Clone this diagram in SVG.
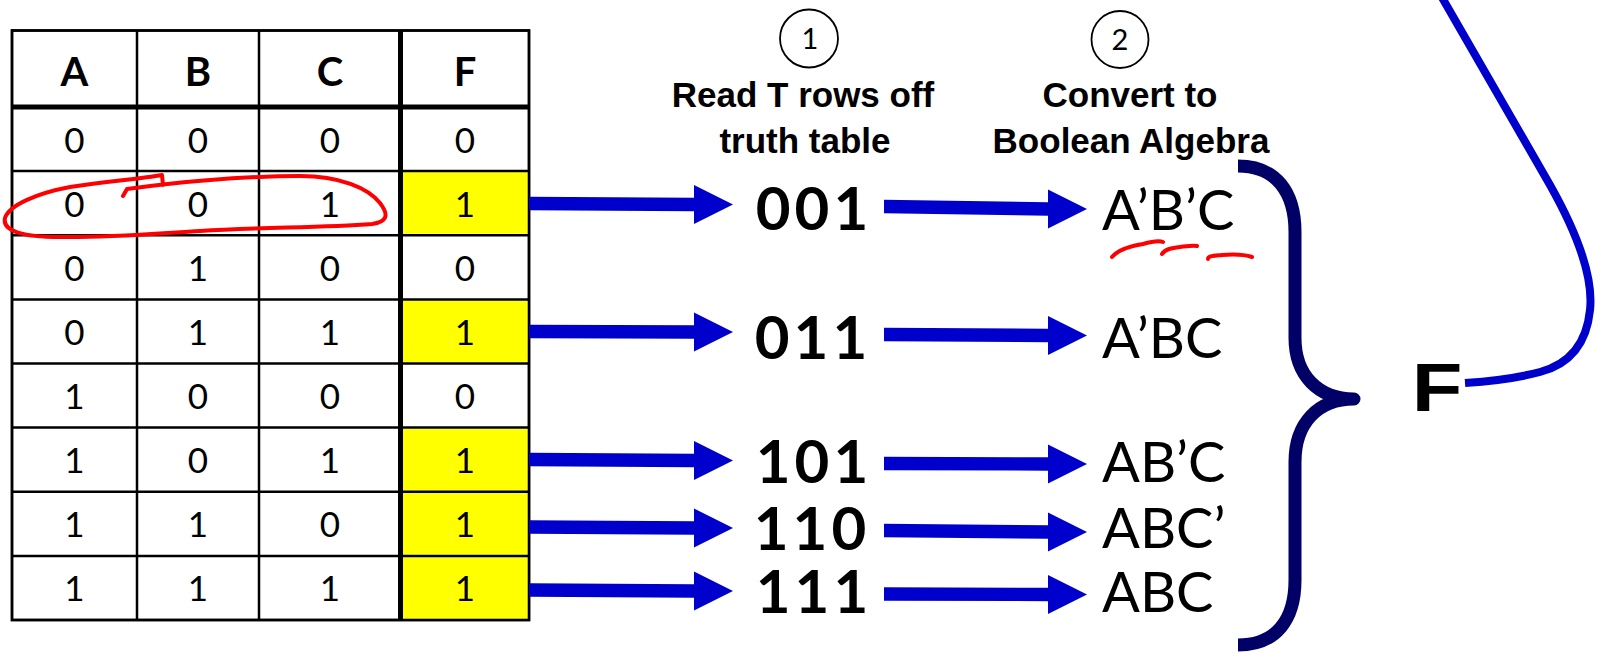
<svg xmlns="http://www.w3.org/2000/svg" width="1601" height="660" viewBox="0 0 1601 660">
<style>
.cell{fill:#fff;stroke:#000;stroke-width:2.5}
.yel{fill:#ffff00}
.grid{stroke:#000;stroke-width:2.5;fill:none}
.thick{stroke:#000;stroke-width:5;fill:none}
.hd{font-family:Lato,"Liberation Sans",sans-serif;font-weight:bold;font-size:40px;text-anchor:middle;fill:#000}
.dg{font-family:Lato,"Liberation Sans",sans-serif;font-size:35px;text-anchor:middle;fill:#000}
.lbl{font-family:"Liberation Sans",Arial,sans-serif;font-weight:bold;font-size:35px;text-anchor:middle;fill:#000}
.num{font-family:Lato,"Liberation Sans",sans-serif;font-size:29px;text-anchor:middle;fill:#000}
.bits{font-family:Lato,"Liberation Sans",sans-serif;font-weight:bold;font-size:60px;letter-spacing:4px;text-anchor:middle;fill:#000}
.term{font-family:Lato,"Liberation Sans",sans-serif;font-size:56px;fill:#000}
.circ{fill:none;stroke:#000;stroke-width:1.8}
.arrow{fill:#0000cc}
.red{fill:none;stroke:#ff0000;stroke-width:4;stroke-linecap:round;stroke-linejoin:round}
</style>

<g id="truth-table">
  <rect class="cell" x="12" y="30.5" width="517" height="589.5"/>
  <rect class="yel" x="403" y="172.2" width="124.8" height="61.6"/>
  <rect class="yel" x="403" y="300.6" width="124.8" height="61.6"/>
  <rect class="yel" x="403" y="428.8" width="124.8" height="61.8"/>
  <rect class="yel" x="403" y="493" width="124.8" height="61.7"/>
  <rect class="yel" x="403" y="557.1" width="124.8" height="61.7"/>
  <g class="grid">
    <line x1="137" y1="30.5" x2="137" y2="620"/>
    <line x1="259" y1="30.5" x2="259" y2="620"/>
    <line x1="12" y1="171.1" x2="529" y2="171.1"/>
    <line x1="12" y1="235.3" x2="529" y2="235.3"/>
    <line x1="12" y1="299.4" x2="529" y2="299.4"/>
    <line x1="12" y1="363.5" x2="529" y2="363.5"/>
    <line x1="12" y1="427.6" x2="529" y2="427.6"/>
    <line x1="12" y1="491.8" x2="529" y2="491.8"/>
    <line x1="12" y1="555.9" x2="529" y2="555.9"/>
    <rect x="12" y="30.5" width="517" height="589.5"/>
  </g>
  <g class="thick">
    <line x1="12" y1="107" x2="529" y2="107"/>
    <line x1="400.5" y1="30.5" x2="400.5" y2="620"/>
  </g>
  <text class="hd" x="74.5" y="86">A</text>
  <text class="hd" x="198" y="86">B</text>
  <text class="hd" x="330" y="86">C</text>
  <text class="hd" x="465" y="86">F</text>

  <g class="dg">
    <text x="74.5" y="152.5">0</text><text x="198" y="152.5">0</text><text x="330" y="152.5">0</text><text x="465" y="152.5">0</text>
    <text x="74.5" y="216.6">0</text><text x="198" y="216.6">0</text><text x="330" y="216.6">1</text><text x="465" y="216.6">1</text>
    <text x="74.5" y="280.8">0</text><text x="198" y="280.8">1</text><text x="330" y="280.8">0</text><text x="465" y="280.8">0</text>
    <text x="74.5" y="344.9">0</text><text x="198" y="344.9">1</text><text x="330" y="344.9">1</text><text x="465" y="344.9">1</text>
    <text x="74.5" y="409">1</text><text x="198" y="409">0</text><text x="330" y="409">0</text><text x="465" y="409">0</text>
    <text x="74.5" y="473.1">1</text><text x="198" y="473.1">0</text><text x="330" y="473.1">1</text><text x="465" y="473.1">1</text>
    <text x="74.5" y="537.3">1</text><text x="198" y="537.3">1</text><text x="330" y="537.3">0</text><text x="465" y="537.3">1</text>
    <text x="74.5" y="601.4">1</text><text x="198" y="601.4">1</text><text x="330" y="601.4">1</text><text x="465" y="601.4">1</text>
  </g>
</g>

<g id="step1-label">
  <circle class="circ" cx="809" cy="38.5" r="29"/>
  <text class="num" x="810" y="49">1</text>
  <text class="lbl" x="803" y="107">Read T rows off</text>
  <text class="lbl" x="805" y="153">truth table</text>
</g>

<g id="step2-label">
  <circle class="circ" cx="1120" cy="39.5" r="28.5"/>
  <text class="num" x="1120" y="50">2</text>
  <text class="lbl" x="1130" y="107">Convert to</text>
  <text class="lbl" x="1131" y="153">Boolean Algebra</text>
</g>

<g id="minterm-bits">
  <text class="bits" x="814" y="230">001</text>
  <text class="bits" x="813" y="359">011</text>
  <text class="bits" x="814" y="483">101</text>
  <text class="bits" x="812" y="550">110</text>
  <text class="bits" x="814" y="613">111</text>
</g>

<g id="minterm-terms">
  <text class="term" x="1102" y="230">A’B’C</text>
  <text class="term" x="1102" y="358">A’BC</text>
  <text class="term" x="1102" y="482">AB’C</text>
  <text class="term" x="1102" y="548">ABC’</text>
  <text class="term" x="1102" y="612">ABC</text>
</g>

<g id="brace">
  <path d="M1238,166 C1276,166 1295,192 1295,232 L1295,338 C1295,375 1318,399 1354,399 C1318,399 1295,423 1295,462 L1295,580 C1295,620 1276,645 1238,645" fill="none" stroke="#000066" stroke-width="13" stroke-linejoin="round"/>
</g>

<g id="result-F">
  <text transform="translate(1437,411) scale(1.22,1)" font-family="'Liberation Sans',Arial,sans-serif" font-weight="bold" font-size="68" text-anchor="middle" fill="#000">F</text>
</g>

<g id="connectors">
  <polygon class="arrow" points="529,196.8 694,197.8 694,185 733,204.5 694,224 694,211.2 529,210.2"/>
  <polygon class="arrow" points="529,324.8 694,325.3 694,312.5 733,332 694,351.5 694,338.7 529,338.2"/>
  <polygon class="arrow" points="529,452.8 694,453.8 694,441 733,460.5 694,480 694,467.2 529,466.2"/>
  <polygon class="arrow" points="529,520.3 694,521.3 694,508.5 733,528 694,547.5 694,534.7 529,533.7"/>
  <polygon class="arrow" points="529,583.3 694,584.3 694,571.5 733,591 694,610.5 694,597.7 529,596.7"/>
  <polygon class="arrow" points="884,199.8 1048,202.3 1048,189.5 1087,209 1048,228.5 1048,215.7 884,213.2"/>
  <polygon class="arrow" points="884,327.8 1048,328.8 1048,316 1087,335.5 1048,355 1048,342.2 884,341.2"/>
  <polygon class="arrow" points="884,456.8 1048,457.3 1048,444.5 1087,464 1048,483.5 1048,470.7 884,470.2"/>
  <polygon class="arrow" points="884,523.8 1048,525.3 1048,512.5 1087,532 1048,551.5 1048,538.7 884,537.2"/>
  <polygon class="arrow" points="884,587.3 1048,587.8 1048,575 1087,594.5 1048,614 1048,601.2 884,600.7"/>
  <path d="M1440,-6 L1550,185 Q1595,265 1590,310 Q1585,360 1540,372 Q1510,380 1465,383" fill="none" stroke="#0000cc" stroke-width="8"/>
</g>

<g id="annotations">
  <path class="red" d="M123,196 L127,189 C170,183 240,176 300,176 C340,176 368,188 380,203 C390,216 386,222 372,224 C320,228 260,227 200,231 C150,234 100,238 60,237 C22,237 2,231 5,218 C9,205 38,193 70,187 C110,181 140,179 162,175 L163,185"/>
  <path class="red" d="M1112,257 C1118,250 1130,246 1143,244 C1150,242 1158,240 1163,242"/>
  <path class="red" d="M1162,254 C1165,249 1172,248 1180,247 C1188,246 1194,245 1197,246"/>
  <path class="red" d="M1208,259 C1208,256 1212,256 1222,255 C1235,254 1246,255 1252,257"/>
</g>
</svg>
